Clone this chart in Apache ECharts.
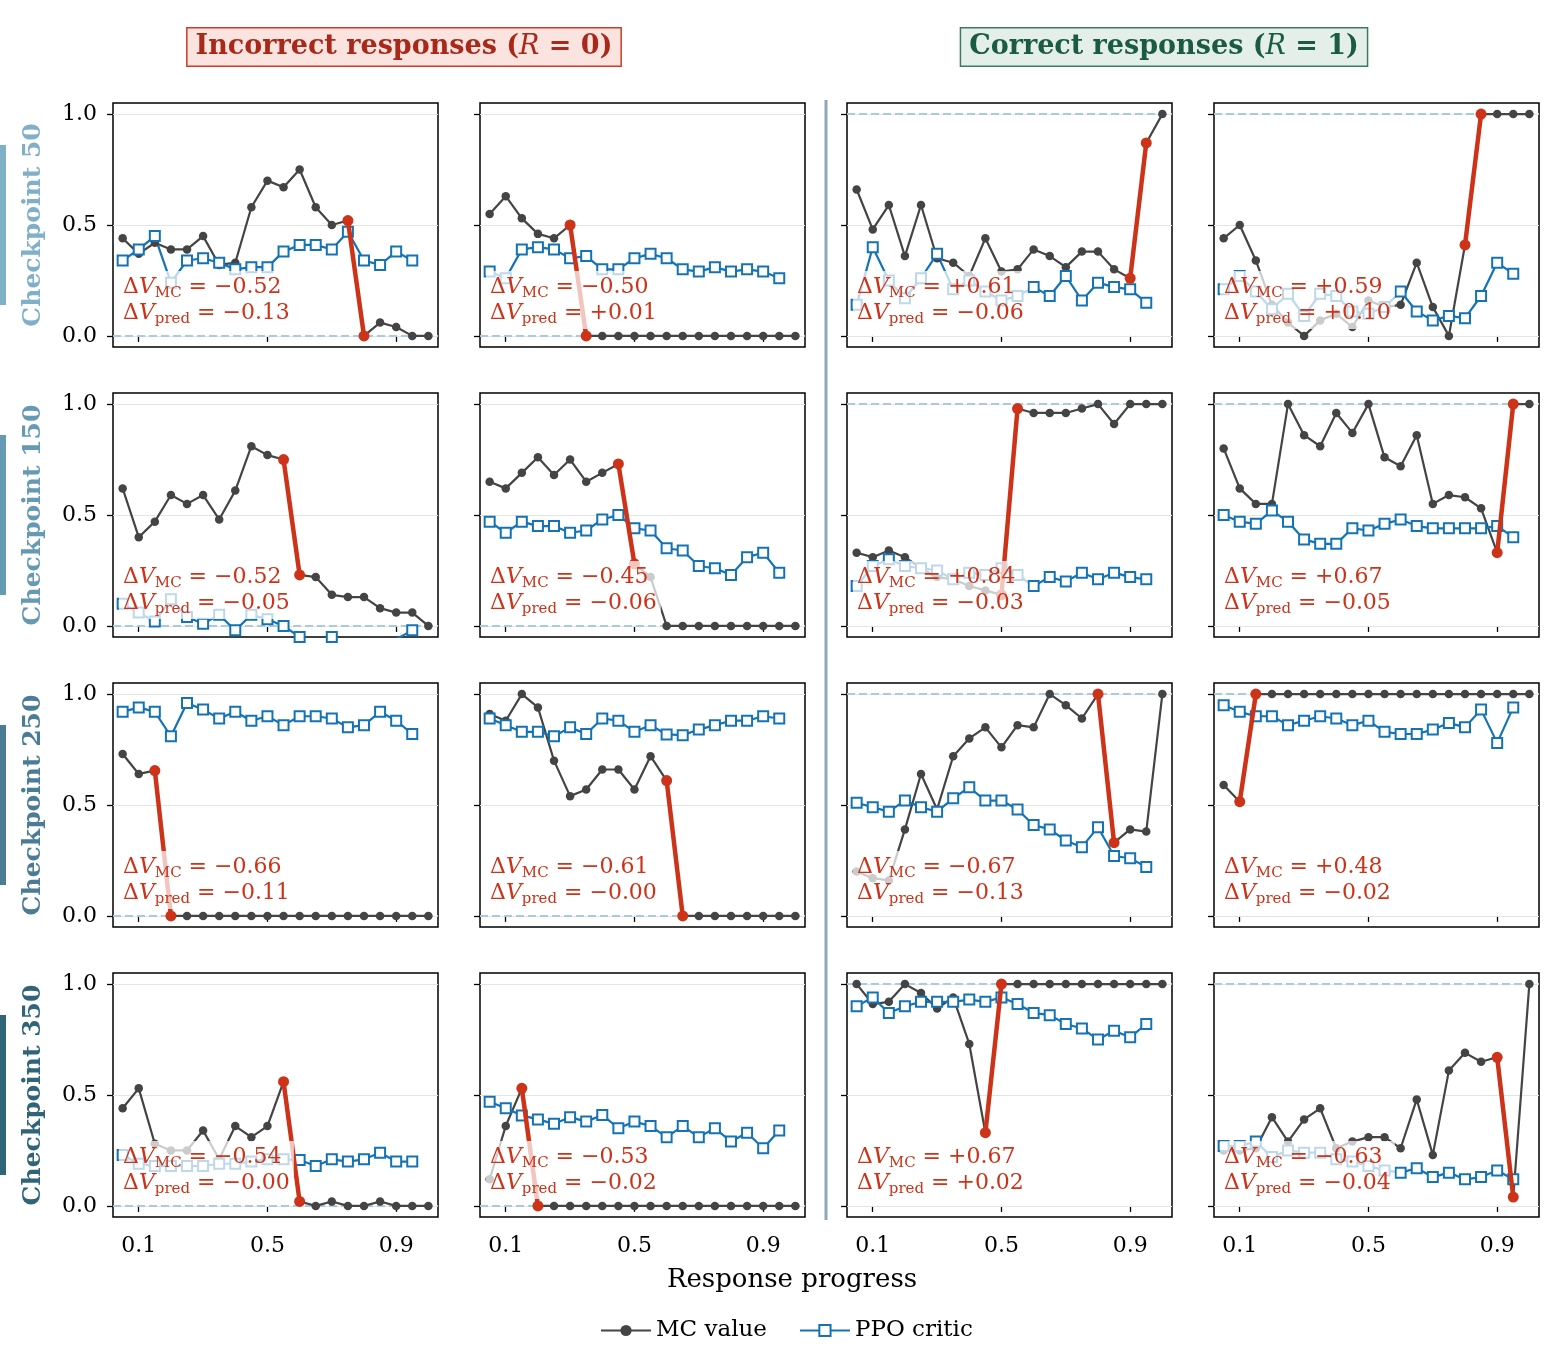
<!DOCTYPE html>
<html lang="en">
<head>
<meta charset="UTF-8">
<title>MC value vs PPO critic</title>
<script src="https://cdn.jsdelivr.net/npm/echarts@6/dist/echarts.min.js"></script>
<style>
  html, body { margin: 0; padding: 0; background: #fff; }
  #chart { width: 1548px; height: 1364px; }
</style>
</head>
<body>
<div id="chart"></div>
<script>
// response progress (x) — MC has 20 points, critic 19
var progress = [0.05, 0.10, 0.15, 0.20, 0.25, 0.30, 0.35, 0.40, 0.45, 0.50,
                0.55, 0.60, 0.65, 0.70, 0.75, 0.80, 0.85, 0.90, 0.95, 1.00];
var xTicks = [0.1, 0.5, 0.9];
var yTicks = [0, 0.5, 1];

var checkpoints = ['Checkpoint 50', 'Checkpoint 150', 'Checkpoint 250', 'Checkpoint 350'];
var rewardByCol = [0, 0, 1, 1];

// Checkpoint 50
var mc50Inc1 = [0.44, 0.37, 0.42, 0.39, 0.39, 0.45, 0.32, 0.33, 0.58, 0.70, 0.67, 0.75, 0.58, 0.50, 0.52, 0.00, 0.06, 0.04, 0.00, 0.00];
var cr50Inc1 = [0.34, 0.39, 0.45, 0.24, 0.34, 0.35, 0.33, 0.30, 0.31, 0.31, 0.38, 0.41, 0.41, 0.39, 0.47, 0.34, 0.32, 0.38, 0.34];
var mc50Inc2 = [0.55, 0.63, 0.53, 0.46, 0.44, 0.50, 0, 0, 0, 0, 0, 0, 0, 0, 0, 0, 0, 0, 0, 0];
var cr50Inc2 = [0.29, 0.26, 0.39, 0.40, 0.39, 0.35, 0.36, 0.30, 0.30, 0.35, 0.37, 0.35, 0.30, 0.29, 0.31, 0.29, 0.30, 0.29, 0.26];
var mc50Cor1 = [0.66, 0.48, 0.59, 0.36, 0.59, 0.35, 0.33, 0.27, 0.44, 0.29, 0.30, 0.39, 0.36, 0.31, 0.38, 0.38, 0.30, 0.26, 0.87, 1.00];
var cr50Cor1 = [0.14, 0.40, 0.25, 0.17, 0.26, 0.37, 0.21, 0.25, 0.20, 0.16, 0.18, 0.22, 0.18, 0.27, 0.16, 0.24, 0.22, 0.21, 0.15];
var mc50Cor2 = [0.44, 0.50, 0.34, 0.14, 0.06, 0.00, 0.07, 0.10, 0.04, 0.16, 0.13, 0.14, 0.33, 0.13, 0.00, 0.41, 1.00, 1.00, 1.00, 1.00];
var cr50Cor2 = [0.21, 0.27, 0.20, 0.12, 0.19, 0.09, 0.19, 0.18, 0.11, 0.10, 0.13, 0.20, 0.11, 0.07, 0.09, 0.08, 0.18, 0.33, 0.28];

// Checkpoint 150
var mc150Inc1 = [0.62, 0.40, 0.47, 0.59, 0.55, 0.59, 0.48, 0.61, 0.81, 0.77, 0.75, 0.23, 0.22, 0.14, 0.13, 0.13, 0.08, 0.06, 0.06, 0.00];
var cr150Inc1 = [0.10, 0.06, 0.02, 0.12, 0.04, 0.01, 0.05, -0.02, 0.05, 0.03, 0.00, -0.05, -0.07, -0.05, -0.08, -0.08, -0.06, -0.06, -0.02];
var mc150Inc2 = [0.65, 0.62, 0.69, 0.76, 0.68, 0.75, 0.65, 0.69, 0.73, 0.28, 0.22, 0, 0, 0, 0, 0, 0, 0, 0, 0];
var cr150Inc2 = [0.47, 0.42, 0.47, 0.45, 0.45, 0.42, 0.43, 0.48, 0.50, 0.44, 0.43, 0.35, 0.34, 0.27, 0.26, 0.23, 0.31, 0.33, 0.24];
var mc150Cor1 = [0.33, 0.31, 0.34, 0.31, 0.26, 0.22, 0.21, 0.18, 0.16, 0.14, 0.98, 0.96, 0.96, 0.96, 0.98, 1.00, 0.91, 1.00, 1.00, 1.00];
var cr150Cor1 = [0.18, 0.27, 0.30, 0.27, 0.26, 0.25, 0.21, 0.24, 0.23, 0.26, 0.23, 0.18, 0.22, 0.20, 0.24, 0.21, 0.24, 0.22, 0.21];
var mc150Cor2 = [0.80, 0.62, 0.55, 0.55, 1.00, 0.86, 0.81, 0.96, 0.87, 1.00, 0.76, 0.72, 0.86, 0.55, 0.59, 0.58, 0.53, 0.33, 1.00, 1.00];
var cr150Cor2 = [0.50, 0.47, 0.46, 0.52, 0.47, 0.39, 0.37, 0.37, 0.44, 0.43, 0.46, 0.48, 0.45, 0.44, 0.44, 0.44, 0.44, 0.45, 0.40];

// Checkpoint 250
var mc250Inc1 = [0.73, 0.64, 0.655, 0, 0, 0, 0, 0, 0, 0, 0, 0, 0, 0, 0, 0, 0, 0, 0, 0];
var cr250Inc1 = [0.92, 0.94, 0.92, 0.81, 0.96, 0.93, 0.89, 0.92, 0.88, 0.90, 0.86, 0.90, 0.90, 0.89, 0.85, 0.86, 0.92, 0.88, 0.82];
var mc250Inc2 = [0.91, 0.88, 1.00, 0.94, 0.70, 0.54, 0.57, 0.66, 0.66, 0.57, 0.72, 0.61, 0, 0, 0, 0, 0, 0, 0, 0];
var cr250Inc2 = [0.89, 0.86, 0.83, 0.83, 0.81, 0.85, 0.82, 0.89, 0.88, 0.83, 0.86, 0.818, 0.815, 0.84, 0.86, 0.88, 0.88, 0.90, 0.89];
var mc250Cor1 = [0.20, 0.17, 0.16, 0.39, 0.64, 0.48, 0.72, 0.80, 0.85, 0.76, 0.86, 0.85, 1.00, 0.95, 0.89, 1.00, 0.33, 0.39, 0.38, 1.00];
var cr250Cor1 = [0.51, 0.49, 0.47, 0.52, 0.49, 0.47, 0.53, 0.58, 0.52, 0.52, 0.48, 0.41, 0.39, 0.34, 0.31, 0.40, 0.27, 0.26, 0.22];
var mc250Cor2 = [0.59, 0.515, 1, 1, 1, 1, 1, 1, 1, 1, 1, 1, 1, 1, 1, 1, 1, 1, 1, 1];
var cr250Cor2 = [0.95, 0.92, 0.90, 0.90, 0.86, 0.88, 0.90, 0.89, 0.86, 0.88, 0.83, 0.82, 0.82, 0.84, 0.87, 0.85, 0.93, 0.78, 0.94];

// Checkpoint 350
var mc350Inc1 = [0.44, 0.53, 0.28, 0.25, 0.25, 0.34, 0.21, 0.36, 0.31, 0.36, 0.56, 0.02, 0.00, 0.02, 0.00, 0.00, 0.02, 0.00, 0.00, 0.00];
var cr350Inc1 = [0.23, 0.19, 0.18, 0.18, 0.18, 0.18, 0.19, 0.19, 0.20, 0.21, 0.21, 0.207, 0.18, 0.21, 0.20, 0.21, 0.24, 0.20, 0.20];
var mc350Inc2 = [0.12, 0.36, 0.53, 0, 0, 0, 0, 0, 0, 0, 0, 0, 0, 0, 0, 0, 0, 0, 0, 0];
var cr350Inc2 = [0.47, 0.44, 0.408, 0.39, 0.37, 0.40, 0.38, 0.41, 0.35, 0.38, 0.36, 0.31, 0.36, 0.31, 0.35, 0.29, 0.33, 0.26, 0.34];
var mc350Cor1 = [1.00, 0.91, 0.92, 1.00, 0.96, 0.89, 0.94, 0.73, 0.33, 1, 1, 1, 1, 1, 1, 1, 1, 1, 1, 1];
var cr350Cor1 = [0.90, 0.94, 0.87, 0.90, 0.92, 0.92, 0.92, 0.93, 0.92, 0.94, 0.91, 0.87, 0.86, 0.82, 0.80, 0.75, 0.79, 0.76, 0.82];
var mc350Cor2 = [0.25, 0.25, 0.26, 0.40, 0.29, 0.39, 0.44, 0.26, 0.29, 0.31, 0.31, 0.26, 0.48, 0.23, 0.61, 0.69, 0.65, 0.67, 0.04, 1.00];
var cr350Cor2 = [0.27, 0.27, 0.29, 0.22, 0.25, 0.24, 0.24, 0.21, 0.20, 0.18, 0.16, 0.15, 0.17, 0.13, 0.15, 0.12, 0.13, 0.16, 0.12];

// index of the highlighted step (from point k to k+1), row by row
var jumpStart = [14, 5, 17, 15,
                 10, 8, 9, 17,
                 2, 11, 15, 1,
                 10, 2, 8, 17];
var dMcText   = ['−0.52', '−0.50', '+0.61', '+0.59',
                 '−0.52', '−0.45', '+0.84', '+0.67',
                 '−0.66', '−0.61', '−0.67', '+0.48',
                 '−0.54', '−0.53', '+0.67', '−0.63'];
var dPredText = ['−0.13', '+0.01', '−0.06', '+0.10',
                 '−0.05', '−0.06', '−0.03', '−0.05',
                 '−0.11', '−0.00', '−0.13', '−0.02',
                 '−0.00', '−0.02', '+0.02', '−0.04'];

var panels = [
    [mc50Inc1, cr50Inc1], [mc50Inc2, cr50Inc2], [mc50Cor1, cr50Cor1], [mc50Cor2, cr50Cor2],
    [mc150Inc1, cr150Inc1], [mc150Inc2, cr150Inc2], [mc150Cor1, cr150Cor1], [mc150Cor2, cr150Cor2],
    [mc250Inc1, cr250Inc1], [mc250Inc2, cr250Inc2], [mc250Cor1, cr250Cor1], [mc250Cor2, cr250Cor2],
    [mc350Inc1, cr350Inc1], [mc350Inc2, cr350Inc2], [mc350Cor1, cr350Cor1], [mc350Cor2, cr350Cor2]
];

// layout
var FONT = 'DejaVu Serif';
var colLeft = [113, 480, 847, 1214];
var rowTop = [103, 393, 683, 973];
var panelW = 325, panelH = 244;
var rowColors = ['#7fb0c8', '#6699b4', '#4b7c95', '#2f6479'];
var RED = '#cc3318', GREY = '#444444', BLUE = '#1473b5';

var chart = echarts.init(document.getElementById('chart'));

var grids = [], xAxes = [], yAxes = [], series = [], graphics = [];

for (var r = 0; r < 4; r++) {
    for (var c = 0; c < 4; c++) {
        var i = r * 4 + c;
        var mc = panels[i][0], cr = panels[i][1];
        var j = jumpStart[i];

        grids.push({
            left: colLeft[c], top: rowTop[r], width: panelW, height: panelH,
            show: true, borderColor: '#000', borderWidth: 1.5, backgroundColor: '#fff',
            containLabel: false, outerBoundsMode: 'none'
        });
        xAxes.push({
            type: 'value', gridIndex: i, min: 0.02, max: 1.03,
            axisLine: { show: false },
            axisTick: { show: true, customValues: xTicks, length: 6, lineStyle: { color: '#000', width: 1.3 } },
            axisLabel: {
                show: r === 3, customValues: xTicks, margin: 18,
                fontFamily: FONT, fontSize: 22, color: '#000',
                formatter: function (v) { return v.toFixed(1); }
            },
            splitLine: { show: false }
        });
        yAxes.push({
            type: 'value', gridIndex: i, min: -0.05, max: 1.05,
            axisLine: { show: false },
            axisTick: { show: true, customValues: yTicks, length: 6, lineStyle: { color: '#000', width: 1.3 } },
            axisLabel: {
                show: c === 0, customValues: yTicks, margin: 16,
                fontFamily: FONT, fontSize: 22, color: '#000',
                formatter: function (v) { return v.toFixed(1); }
            },
            splitLine: { show: false }
        });

        // grid lines + reward reference line, kept under the data
        series.push({
            type: 'line', name: 'ref' + i, xAxisIndex: i, yAxisIndex: i, data: [], z: 1,
            silent: true,
            markLine: {
                silent: true, z: 1, symbol: ['none', 'none'], label: { show: false },
                animation: false,
                data: [
                    { yAxis: 0, lineStyle: { color: '#e4e4e4', type: 'solid', width: 1.2 } },
                    { yAxis: 0.5, lineStyle: { color: '#e4e4e4', type: 'solid', width: 1.2 } },
                    { yAxis: 1, lineStyle: { color: '#e4e4e4', type: 'solid', width: 1.2 } },
                    { yAxis: rewardByCol[c], lineStyle: { color: '#a9cbe2', type: [8, 4], width: 2.2 } }
                ]
            }
        });

        series.push({
            type: 'line', name: 'MC value', xAxisIndex: i, yAxisIndex: i, z: 3,
            data: mc.map(function (v, k) { return [progress[k], v]; }),
            symbol: 'circle', symbolSize: 8.5,
            itemStyle: { color: GREY },
            lineStyle: { color: GREY, width: 2.2 }
        });
        series.push({
            type: 'line', name: 'PPO critic', xAxisIndex: i, yAxisIndex: i, z: 3,
            data: cr.map(function (v, k) { return [progress[k], v]; }),
            symbol: 'rect', symbolSize: 10,
            itemStyle: { color: '#fff', borderColor: BLUE, borderWidth: 2 },
            lineStyle: { color: BLUE, width: 2.2 }
        });
        series.push({
            type: 'line', name: 'jump' + i, xAxisIndex: i, yAxisIndex: i, z: 4,
            data: [[progress[j], mc[j]], [progress[j + 1], mc[j + 1]]],
            symbol: 'circle', symbolSize: 11,
            itemStyle: { color: RED },
            lineStyle: { color: RED, width: 4.5 }
        });

        // delta annotation (semi-transparent box over the lines)
        graphics.push({
            type: 'text', left: colLeft[c] + 6, top: rowTop[r] + 168, z: 100,
            style: {
                text: '{d|Δ}{v|V}{s|MC}{t| = ' + dMcText[i] + '}\n{d|Δ}{v|V}{s|pred}{t| = ' + dPredText[i] + '}',
                backgroundColor: 'rgba(255,255,255,0.72)',
                padding: [3, 4, 3, 4],
                rich: {
                    d: { fontFamily: FONT, fontSize: 22, fill: RED, lineHeight: 26 },
                    v: { fontFamily: FONT, fontSize: 22, fontStyle: 'italic', fill: RED, lineHeight: 26 },
                    s: { fontFamily: FONT, fontSize: 15, fill: RED, lineHeight: 13, height: 13, verticalAlign: 'bottom' },
                    t: { fontFamily: FONT, fontSize: 22, fill: RED, lineHeight: 26 }
                }
            }
        });
    }

    // row label with side bar
    var cy = rowTop[r] + panelH / 2;
    graphics.push({
        type: 'rect', shape: { x: 0, y: cy - 80, width: 6, height: 160 },
        style: { fill: rowColors[r] }, z: 10
    });
    graphics.push({
        type: 'text', x: 33, y: cy, rotation: Math.PI / 2, z: 10,
        style: {
            text: checkpoints[r], fontFamily: FONT, fontSize: 25, fontWeight: 'bold',
            fill: rowColors[r], align: 'center', verticalAlign: 'middle'
        }
    });
}

// column titles
graphics.push({
    type: 'text', x: 404, y: 47, z: 10,
    style: {
        text: '{b|Incorrect responses (}{i|R}{b| = 0)}',
        align: 'center', verticalAlign: 'middle',
        backgroundColor: '#fbe3df', borderColor: '#cf3b22', borderWidth: 1.5,
        padding: [5, 8, 5, 8],
        rich: {
            b: { fontFamily: FONT, fontSize: 27, fontWeight: 'bold', fill: '#a8291a' },
            i: { fontFamily: FONT, fontSize: 27, fontStyle: 'italic', fill: '#a8291a' }
        }
    }
});
graphics.push({
    type: 'text', x: 1164, y: 47, z: 10,
    style: {
        text: '{b|Correct responses (}{i|R}{b| = 1)}',
        align: 'center', verticalAlign: 'middle',
        backgroundColor: '#e3efe8', borderColor: '#3b7b61', borderWidth: 1.5,
        padding: [5, 8, 5, 8],
        rich: {
            b: { fontFamily: FONT, fontSize: 27, fontWeight: 'bold', fill: '#1b5a45' },
            i: { fontFamily: FONT, fontSize: 27, fontStyle: 'italic', fill: '#1b5a45' }
        }
    }
});

// separator between incorrect and correct columns
graphics.push({
    type: 'rect', shape: { x: 824.5, y: 100, width: 3, height: 1120 },
    style: { fill: '#8ea7b9' }, z: 10
});

// shared x label
graphics.push({
    type: 'text', x: 792, y: 1280, z: 10,
    style: {
        text: 'Response progress', fontFamily: FONT, fontSize: 26, fill: '#000',
        align: 'center', verticalAlign: 'middle'
    }
});

chart.setOption({
    animation: false,
    backgroundColor: '#fff',
    grid: grids,
    xAxis: xAxes,
    yAxis: yAxes,
    legend: {
        data: ['MC value', 'PPO critic'],
        left: 595, top: 1314,
        itemWidth: 50, itemHeight: 14, itemGap: 32,
        textStyle: { fontFamily: FONT, fontSize: 23, color: '#000' }
    },
    series: series,
    graphic: graphics
});
</script>
</body>
</html>
